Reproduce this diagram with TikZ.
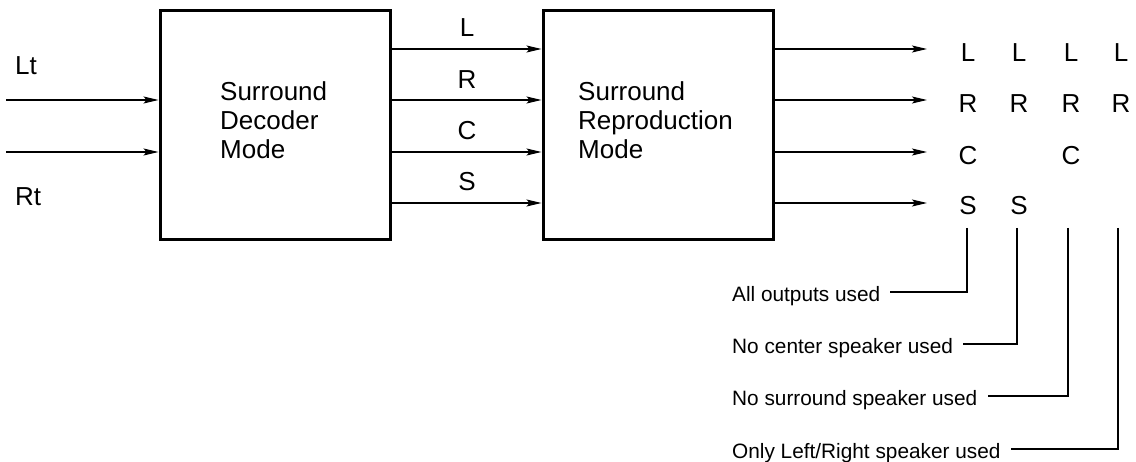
\documentclass[tikz,border=0pt]{standalone}
\usepackage{fontspec}
\setmainfont{Liberation Sans}
\usetikzlibrary{arrows.meta}

\begin{document}
\begin{tikzpicture}[x=1pt,y=-1pt]
	\tikzstyle{block}=[draw, line width=3pt, minimum width=230pt, minimum height=229pt]
	\tikzstyle{blocktext}=[anchor=west, align=left, inner sep=0pt, font=\fontsize{26}{29}\selectfont]
	\tikzstyle{chan}=[inner sep=0pt, font=\fontsize{26}{29}\selectfont]
	\tikzstyle{note}=[anchor=west, inner xsep=10pt, inner ysep=0pt, text height=19pt, text depth=0pt, font=\fontsize{20.8}{24}\selectfont]
	\tikzset{edge/.style = {line width=1.2pt, -{Stealth[length=15pt, width=7pt, inset=3pt]}}}
	\tikzset{lead/.style = {line width=1.1pt}}

	\useasboundingbox (0,0) rectangle (1136,462);

	% the two boxes
	\node[block](decoder) at (275,125.5) {};
	\node[blocktext](decodertext) at (220,120.5) {Surround\\Decoder\\Mode};
	\node[block](repro) at (658,125.5) {};
	\node[blocktext](reprotext) at (578,120.5) {Surround\\Reproduction\\Mode};

	% inputs
	\coordinate (lt) at (6,100);
	\coordinate (rt) at (6,152);
	\node[chan, anchor=west](ltlabel) at (15,66) {Lt};
	\node[chan, anchor=west](rtlabel) at (15,197) {Rt};
	\draw[edge](lt) to (lt -| decoder.west);
	\draw[edge](rt) to (rt -| decoder.west);

	% decoder to reproduction
	\coordinate (midl) at (decoder.east |- 0,49);
	\coordinate (midr) at (decoder.east |- 0,100);
	\coordinate (midc) at (decoder.east |- 0,152);
	\coordinate (mids) at (decoder.east |- 0,203);
	\draw[edge](midl) to (midl -| repro.west);
	\draw[edge](midr) to (midr -| repro.west);
	\draw[edge](midc) to (midc -| repro.west);
	\draw[edge](mids) to (mids -| repro.west);
	\node[chan](chl) at (467,28) {L};
	\node[chan](chr) at (467,80) {R};
	\node[chan](chc) at (467,131) {C};
	\node[chan](chs) at (467,182) {S};

	% outputs
	\coordinate (outl) at (927,49);
	\coordinate (outr) at (927,100);
	\coordinate (outc) at (927,152);
	\coordinate (outs) at (927,203);
	\draw[edge](outl -| repro.east) to (outl);
	\draw[edge](outr -| repro.east) to (outr);
	\draw[edge](outc -| repro.east) to (outc);
	\draw[edge](outs -| repro.east) to (outs);

	% speaker sets
	\node[chan](l1) at (968,53) {L};
	\node[chan](r1) at (968,104) {R};
	\node[chan](c1) at (968,156) {C};
	\node[chan](s1) at (968,206) {S};
	\node[chan](l2) at (1019,53) {L};
	\node[chan](r2) at (1019,104) {R};
	\node[chan](s2) at (1019,206) {S};
	\node[chan](l3) at (1071,53) {L};
	\node[chan](r3) at (1071,104) {R};
	\node[chan](c3) at (1071,156) {C};
	\node[chan](l4) at (1121,53) {L};
	\node[chan](r4) at (1121,104) {R};

	% notes
	\coordinate (top1) at (967,228);
	\coordinate (top2) at (1017,228);
	\coordinate (top3) at (1068,228);
	\coordinate (top4) at (1118,228);
	\node[note](allused) at (722,292) {All outputs used};
	\node[note](nocenter) at (722,344) {No center speaker used};
	\node[note](nosurround) at (722,396) {No surround speaker used};
	\node[note](onlylr) at (722,449) {Only Left/Right speaker used};
	\draw[lead](top1) |- (allused.east);
	\draw[lead](top2) |- (nocenter.east);
	\draw[lead](top3) |- (nosurround.east);
	\draw[lead](top4) |- (onlylr.east);
\end{tikzpicture}
\end{document}
